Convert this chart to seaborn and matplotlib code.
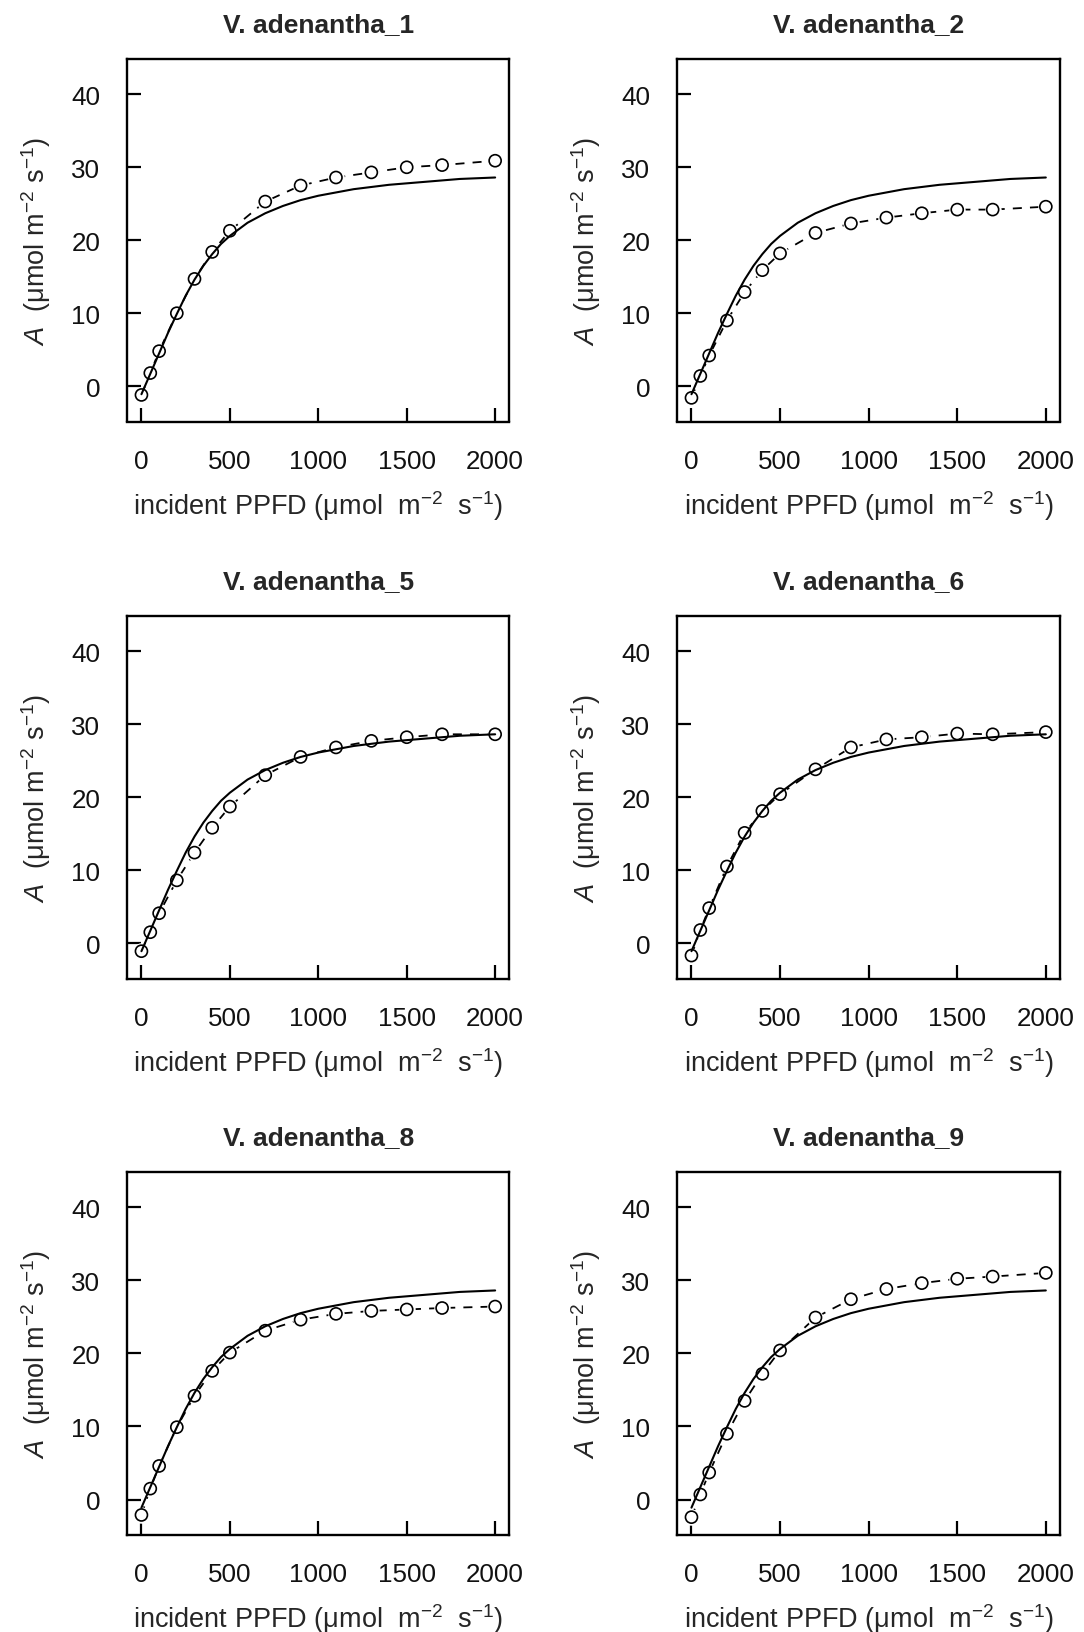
import matplotlib
matplotlib.use("Agg")
import matplotlib.pyplot as plt
import seaborn as sns

# incident PPFD levels of the measured light-response curves
ppfd = [0, 50, 100, 200, 300, 400, 500, 700, 900, 1100, 1300, 1500, 1700, 2000]

# observed net assimilation, one list per leaf
A_1 = [-1.2, 1.8, 4.8, 10.0, 14.7, 18.4, 21.3, 25.3, 27.5, 28.6, 29.3, 30.0, 30.3, 30.9]
A_2 = [-1.6, 1.4, 4.2, 9.0, 12.9, 15.9, 18.2, 21.0, 22.3, 23.1, 23.7, 24.2, 24.2, 24.6]
A_5 = [-1.1, 1.5, 4.1, 8.6, 12.4, 15.8, 18.7, 23.0, 25.5, 26.8, 27.7, 28.2, 28.6, 28.6]
A_6 = [-1.7, 1.8, 4.8, 10.5, 15.1, 18.1, 20.4, 23.8, 26.8, 27.9, 28.2, 28.7, 28.6, 28.9]
A_8 = [-2.1, 1.5, 4.6, 9.9, 14.2, 17.6, 20.1, 23.1, 24.6, 25.4, 25.8, 26.0, 26.2, 26.4]
A_9 = [-2.4, 0.7, 3.7, 9.0, 13.5, 17.2, 20.4, 24.9, 27.4, 28.8, 29.6, 30.2, 30.5, 31.0]

# common fitted curve (same in every panel)
fit_x = [0, 50, 100, 150, 200, 250, 300, 350, 400, 450, 500, 600, 700, 800,
         900, 1000, 1200, 1400, 1600, 1800, 2000]
fit_A = [-1.1, 1.7, 4.5, 7.3, 9.9, 12.4, 14.6, 16.5, 18.1, 19.5, 20.6, 22.4,
         23.7, 24.7, 25.5, 26.1, 27.0, 27.6, 28.0, 28.4, 28.6]

titles = ["V. adenantha_1", "V. adenantha_2", "V. adenantha_5",
          "V. adenantha_6", "V. adenantha_8", "V. adenantha_9"]
series = [A_1, A_2, A_5, A_6, A_8, A_9]

sns.set_style("ticks")
plt.rcParams["font.family"] = ["Liberation Sans", "DejaVu Sans"]
plt.rcParams["mathtext.fontset"] = "custom"
plt.rcParams["mathtext.rm"] = "Liberation Sans"
plt.rcParams["mathtext.it"] = "Liberation Sans:italic"

W, H = 1084, 1633
fig = plt.figure(figsize=(W / 100, H / 100), dpi=100)

# axes boxes in pixels: (left, right) and (top, bottom)
cols = [(127.3, 509.3), (677.3, 1060)]
rows = [(60, 422.5), (616.7, 979.5), (1172.7, 1536)]

for i, (title, A) in enumerate(zip(titles, series)):
    l, r = cols[i % 2]
    t, b = rows[i // 2]
    ax = fig.add_axes([l / W, 1 - b / H, (r - l) / W, (b - t) / H])

    # observed points, R type="b" look: dashed line broken around open circles
    sns.lineplot(x=ppfd, y=A, ax=ax, color="black", lw=1.3,
                 linestyle=(0, (5, 4.5)), zorder=1)
    sns.scatterplot(x=ppfd, y=A, ax=ax, s=140, color="white", linewidth=0, zorder=2)
    sns.scatterplot(x=ppfd, y=A, ax=ax, s=75, facecolor="none", edgecolor="black",
                    linewidth=1.2, zorder=3)
    # fitted curve
    sns.lineplot(x=fit_x, y=fit_A, ax=ax, color="black", lw=1.5, zorder=4)

    ax.set_xlim(-80, 2080)
    ax.set_ylim(-4.84, 44.84)
    ax.set_xticks([0, 500, 1000, 1500, 2000])
    ax.set_yticks([0, 10, 20, 30, 40])
    ax.tick_params(direction="in", length=10, width=1.6, labelsize=18.7, pad=19.5,
                   color="black", labelcolor="#111111")
    for sp in ax.spines.values():
        sp.set_visible(True)
        sp.set_linewidth(1.7)
        sp.set_color("black")

    ax.set_title(title, fontsize=19, fontweight="bold", pad=20)
    ax.set_xlabel(r"incident PPFD (μmol  m$^{-2}$  s$^{-1}$)", fontsize=19.5, labelpad=11)
    ax.set_ylabel(r"$\it{A}$  (μmol m$^{-2}$ s$^{-1}$)", fontsize=19.5, labelpad=13)

fig.savefig("out.png", dpi=100)
